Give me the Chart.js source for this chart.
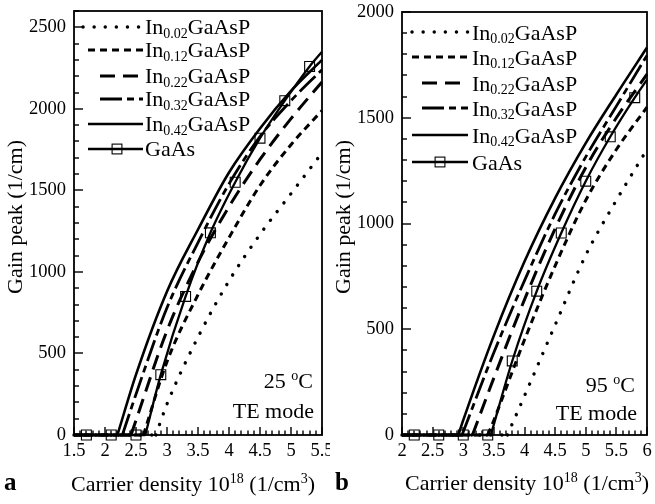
<!DOCTYPE html>
<html>
<head>
<meta charset="utf-8">
<script src="https://cdn.jsdelivr.net/npm/chart.js@4/dist/chart.umd.min.js"></script>
<style>
  html, body { margin: 0; padding: 0; background: #fff; }
  #wrap { position: relative; width: 655px; height: 504px; overflow: hidden; background: #fff; }
  #ca { position: absolute; left: 0; top: 0; }
  #cb { position: absolute; left: 330px; top: 0; }
</style>
</head>
<body>
<div id="wrap">
  <canvas id="ca" width="330" height="504"></canvas>
  <canvas id="cb" width="325" height="504"></canvas>
</div>
<script>
// ---------- data ----------
const seriesLabels = ['In0.02GaAsP', 'In0.12GaAsP', 'In0.22GaAsP', 'In0.32GaAsP', 'In0.42GaAsP', 'GaAs'];

// Panel a : 25 °C, TE mode   (x: carrier density 1e18 /cm3, y: gain peak 1/cm)
const a_In002_x = [1.5, 2.82, 3.0, 3.5, 4.0, 4.5, 5.0, 5.5];
const a_In002_y = [0, 0, 190, 600, 945, 1230, 1480, 1730];
const a_In012_x = [1.5, 2.62, 3.0, 3.5, 4.0, 4.5, 5.0, 5.5];
const a_In012_y = [0, 0, 450, 860, 1210, 1530, 1780, 1990];
const a_In022_x = [1.5, 2.42, 2.5, 3.0, 3.5, 4.0, 4.5, 5.0, 5.5];
const a_In022_y = [0, 0, 90, 640, 1060, 1400, 1690, 1940, 2165];
const a_In032_x = [1.5, 2.28, 2.5, 3.0, 3.5, 4.0, 4.5, 5.0, 5.5];
const a_In032_y = [0, 0, 250, 780, 1180, 1540, 1830, 2050, 2240];
const a_In042_x = [1.5, 2.2, 2.5, 3.0, 3.5, 4.0, 4.5, 5.0, 5.5];
const a_In042_y = [0, 0, 370, 880, 1260, 1610, 1880, 2110, 2300];
const a_GaAs_x = [1.5, 1.7, 2.1, 2.5, 2.65, 2.9, 3.3, 3.7, 4.1, 4.5, 4.9, 5.3, 5.5];
const a_GaAs_y = [0, 0, 0, 0, 0, 370, 850, 1240, 1550, 1820, 2050, 2260, 2350];
const a_GaAs_markers = [1.7, 2.1, 2.5, 2.9, 3.3, 3.7, 4.1, 4.5, 4.9, 5.3];

// Panel b : 95 °C, TE mode
const b_In002_x = [2.0, 3.72, 4.0, 4.5, 5.0, 5.5, 6.0];
const b_In002_y = [0, 0, 185, 520, 850, 1110, 1350];
const b_In012_x = [2.0, 3.4, 3.5, 4.0, 4.5, 5.0, 5.5, 6.0];
const b_In012_y = [0, 0, 70, 450, 800, 1110, 1350, 1550];
const b_In022_x = [2.0, 3.15, 3.5, 4.0, 4.5, 5.0, 5.5, 6.0];
const b_In022_y = [0, 0, 270, 640, 975, 1265, 1500, 1706];
const b_In032_x = [2.0, 2.98, 3.5, 4.0, 4.5, 5.0, 5.5, 6.0];
const b_In032_y = [0, 0, 390, 730, 1045, 1315, 1555, 1795];
const b_In042_x = [2.0, 2.92, 3.0, 3.5, 4.0, 4.5, 5.0, 5.5, 6.0];
const b_In042_y = [0, 0, 70, 470, 820, 1120, 1380, 1610, 1832];
const b_GaAs_x = [2.0, 2.2, 2.6, 3.0, 3.4, 3.45, 3.8, 4.2, 4.6, 5.0, 5.4, 5.8, 6.0];
const b_GaAs_y = [0, 0, 0, 0, 0, 0, 350, 680, 955, 1200, 1410, 1595, 1680];
const b_GaAs_markers = [2.2, 2.6, 3.0, 3.4, 3.8, 4.2, 4.6, 5.0, 5.4, 5.8];

// axis ranges / tick spacing
const a_xRange = [1.5, 5.5], a_yRange = [0, 2600];
const b_xRange = [2.0, 6.0], b_yRange = [0, 2000];
const xMinorStep = 0.1, xMajorStep = 0.5, yMinorStep = 100, yMajorStep = 500;

const a_temp = '25', b_temp = '95';
const modeText = 'TE mode';
const yTitle = 'Gain peak (1/cm)';

// ---------- styles ----------
const FONT = '"Liberation Serif", "Times New Roman", serif';
const lineStyles = [
  { w: 3.4, dash: [0.1, 11], cap: 'round' },
  { w: 3.0, dash: [7, 5], cap: 'butt' },
  { w: 3.0, dash: [15, 8], cap: 'butt' },
  { w: 2.8, dash: [22, 5, 7, 5], cap: 'butt' },
  { w: 2.6, dash: [], cap: 'butt' },
  { w: 2.3, dash: [], cap: 'butt' }
];

const isMult = (v, m) => Math.abs(v / m - Math.round(v / m)) < 1e-6;

function buildPoints(xs, ys) {
  const pts = [];
  for (let i = 0; i < xs.length; i++) {
    pts.push({ x: xs[i], y: ys[i] });
    if (ys[i] === 0 && i + 1 < ys.length && ys[i + 1] > 0) {
      // break so the rising curve starts with a sharp corner at threshold
      pts.push({ x: xs[i], y: null });
      pts.push({ x: xs[i], y: 0 });
    }
  }
  return pts;
}

function makeDatasets(series, markers) {
  return series.map(([xs, ys], i) => {
    const st = lineStyles[i];
    const pts = buildPoints(xs, ys);
    const isG = i === 5;
    return {
      label: seriesLabels[i],
      data: pts,
      borderColor: '#000',
      borderWidth: st.w,
      borderDash: st.dash,
      borderCapStyle: st.cap,
      cubicInterpolationMode: 'monotone',
      fill: false,
      spanGaps: false,
      pointRadius: pts.map(p => (isG && p.y !== null && markers.includes(p.x)) ? 7 : 0),
      pointHoverRadius: 0,
      pointHitRadius: 0,
      pointStyle: 'rect',
      pointBorderColor: '#000',
      pointBackgroundColor: 'rgba(0,0,0,0)',
      pointBorderWidth: 1.1,
      clip: false
    };
  });
}

function drawRich(ctx, parts, x, y, align, size) {
  const main = size + 'px ' + FONT;
  const small = Math.round(size * 0.64) + 'px ' + FONT;
  let total = 0;
  const widths = parts.map(p => {
    ctx.font = (p.sub || p.sup) ? small : main;
    const w = ctx.measureText(p.t).width;
    total += w;
    return w;
  });
  let cx = align === 'right' ? x - total : align === 'center' ? x - total / 2 : x;
  ctx.textAlign = 'left';
  ctx.textBaseline = 'alphabetic';
  parts.forEach((p, i) => {
    ctx.font = (p.sub || p.sup) ? small : main;
    const dy = p.sub ? size * 0.16 : p.sup ? -size * 0.36 : 0;
    ctx.fillText(p.t, cx, y + dy);
    cx += widths[i];
  });
}

function labelParts(label) {
  const m = label.match(/^In(\d\.\d\d)(.*)$/);
  if (m) return [{ t: 'In' }, { t: m[1], sub: true }, { t: m[2] }];
  return [{ t: label }];
}

const decorPlugin = {
  id: 'decor',
  afterDraw(chart, args, o) {
    const ctx = chart.ctx;
    const area = chart.chartArea;
    const sx = chart.scales.x, sy = chart.scales.y;
    ctx.save();
    ctx.setLineDash([]);
    ctx.fillStyle = '#000';
    ctx.strokeStyle = '#000';
    // inward tick marks (major + minor) at the scales' own tick values
    const xt = sx.ticks || [];
    const yt = sy.ticks || [];
    for (let k = 0; k < xt.length; k++) {
      const px = Math.round(sx.getPixelForValue(xt[k].value));
      const len = isMult(xt[k].value, xMajorStep) ? 8 : 4.5;
      ctx.fillRect(px - 0.7, area.bottom - len, 1.4, len);
    }
    for (let k = 0; k < yt.length; k++) {
      const py = Math.round(sy.getPixelForValue(yt[k].value));
      const len = isMult(yt[k].value, yMajorStep) ? 9 : 5;
      ctx.fillRect(area.left, py - 0.7, len, 1.4);
    }
    // frame
    ctx.lineWidth = 1.8;
    ctx.strokeRect(area.left, area.top, area.right - area.left, area.bottom - area.top);
    // legend
    chart.data.datasets.forEach((ds, i) => {
      const ry = o.legendRows[i];
      const x0 = o.legendStarts[i];
      ctx.lineWidth = ds.borderWidth;
      ctx.setLineDash(ds.borderDash);
      ctx.lineCap = ds.borderCapStyle;
      ctx.beginPath();
      ctx.moveTo(x0, ry); ctx.lineTo(o.legendX1, ry);
      ctx.stroke();
      ctx.setLineDash([]);
      ctx.lineCap = 'butt';
      if (i === 5) {
        ctx.lineWidth = 1.1;
        const s = 4.9;
        ctx.strokeRect(o.legendMark - s, ry - s, 2 * s, 2 * s);
      }
      drawRich(ctx, labelParts(ds.label), o.legendTX, ry + o.legendBase, 'left', 22);
    });
    // temperature and mode annotation
    drawRich(ctx, [{ t: o.temp + ' ' }, { t: 'o', sup: true }, { t: 'C' }], o.annX, o.annY1, 'right', 22);
    drawRich(ctx, [{ t: modeText }], o.annX2, o.annY2, 'right', 22);
    // x title
    drawRich(ctx, [{ t: 'Carrier density 10' }, { t: '18', sup: true }, { t: ' (1/cm' }, { t: '3', sup: true }, { t: ')' }],
      o.xtX, o.xtY, 'center', 22);
    // y title (rotated)
    ctx.save();
    ctx.translate(o.ytX, o.ytY);
    ctx.rotate(-Math.PI / 2);
    drawRich(ctx, [{ t: yTitle }], 0, 0, 'center', 22);
    ctx.restore();
    // panel letter
    ctx.font = 'bold 25px ' + FONT;
    ctx.textAlign = 'left';
    ctx.textBaseline = 'alphabetic';
    ctx.fillText(o.letter, o.letterX, o.letterY);
    ctx.restore();
  }
};

function makeChart(id, series, markers, xr, yr, lay, dec) {
  const tickFont = { family: FONT, size: 18.5 };
  return new Chart(document.getElementById(id), {
    type: 'line',
    data: { datasets: makeDatasets(series, markers) },
    plugins: [decorPlugin],
    options: {
      responsive: false,
      animation: false,
      devicePixelRatio: 1,
      events: [],
      layout: { padding: lay.padding },
      plugins: {
        legend: { display: false },
        tooltip: { enabled: false },
        decor: dec
      },
      scales: {
        x: {
          type: 'linear', min: xr[0], max: xr[1],
          grid: { display: false, drawTicks: false },
          border: { display: false },
          ticks: {
            stepSize: xMinorStep, maxTicksLimit: 1000, autoSkip: false, minRotation: 0, maxRotation: 0,
            includeBounds: false, padding: 5, color: '#000', font: tickFont,
            callback: v => isMult(v, xMajorStep) ? String(Math.round(v * 10) / 10) : ''
          },
          afterFit: s => { s.height = 504 - 435; s.paddingLeft = 0; s.paddingRight = 0; }
        },
        y: {
          type: 'linear', min: yr[0], max: yr[1],
          grid: { display: false, drawTicks: false },
          border: { display: false },
          ticks: {
            stepSize: yMinorStep, maxTicksLimit: 1000, autoSkip: false, includeBounds: false,
            padding: 8, color: '#000', font: tickFont,
            callback: v => isMult(v, yMajorStep) ? String(v) : ''
          },
          afterFit: s => { s.width = lay.yWidth; s.paddingTop = 0; s.paddingBottom = 0; }
        }
      }
    }
  });
}

makeChart('ca',
  [[a_In002_x, a_In002_y], [a_In012_x, a_In012_y], [a_In022_x, a_In022_y],
   [a_In032_x, a_In032_y], [a_In042_x, a_In042_y], [a_GaAs_x, a_GaAs_y]],
  a_GaAs_markers, a_xRange, a_yRange,
  { padding: { left: 0, right: 8, top: 11, bottom: 0 }, yWidth: 74 },
  { legendRows: [27, 50, 76, 99, 124, 149], legendStarts: [83, 88, 100, 100, 88, 88],
    legendX1: 143, legendTX: 145, legendBase: 7.3, legendMark: 117,
    temp: a_temp, annX: 313, annY1: 388, annX2: 314, annY2: 418,
    xtX: 193, xtY: 491, ytX: 22, ytY: 217, letter: 'a', letterX: 4, letterY: 490 });

makeChart('cb',
  [[b_In002_x, b_In002_y], [b_In012_x, b_In012_y], [b_In022_x, b_In022_y],
   [b_In032_x, b_In032_y], [b_In042_x, b_In042_y], [b_GaAs_x, b_GaAs_y]],
  b_GaAs_markers, b_xRange, b_yRange,
  { padding: { left: 0, right: 8, top: 12, bottom: 0 }, yWidth: 72 },
  { legendRows: [32, 57, 83, 108, 135, 162], legendStarts: [82, 82, 92, 92, 82, 82],
    legendX1: 138, legendTX: 142, legendBase: 7.5, legendMark: 110,
    temp: b_temp, annX: 305, annY1: 392, annX2: 307, annY2: 420,
    xtX: 197, xtY: 490, ytX: 20, ytY: 217, letter: 'b', letterX: 5, letterY: 490 });
</script>
</body>
</html>
